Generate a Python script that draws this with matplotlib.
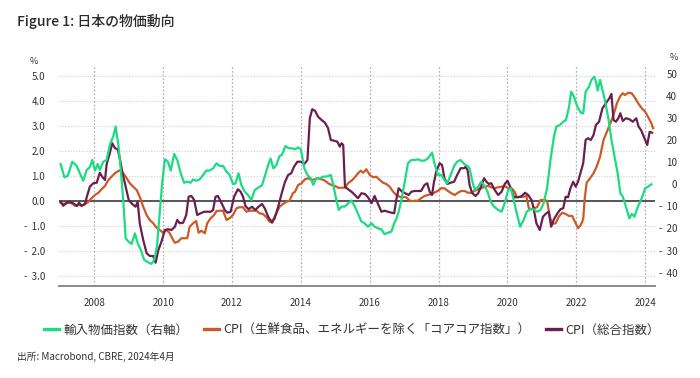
import matplotlib.pyplot as plt
from matplotlib.lines import Line2D

plt.rcParams['font.family'] = ['Noto Sans CJK JP', 'DejaVu Sans']

# 輸入物価指数 (前年比 %, 右軸)
imp_t = [2007.02, 2007.13, 2007.23, 2007.36, 2007.49, 2007.58, 2007.68, 2007.78, 2007.87, 2007.94,
         2008.02, 2008.10, 2008.16, 2008.26, 2008.36, 2008.45, 2008.55, 2008.62, 2008.70, 2008.77,
         2008.84, 2008.91, 2008.99, 2009.08, 2009.18, 2009.26, 2009.35, 2009.45, 2009.57, 2009.66,
         2009.74, 2009.82, 2009.90, 2009.97, 2010.05, 2010.14, 2010.22, 2010.32, 2010.41, 2010.51,
         2010.61, 2010.70, 2010.80, 2010.87, 2010.96, 2011.06, 2011.16, 2011.25, 2011.35, 2011.45,
         2011.55, 2011.64, 2011.74, 2011.84, 2011.93, 2012.03, 2012.10, 2012.19, 2012.27, 2012.37,
         2012.46, 2012.56, 2012.66, 2012.76, 2012.87, 2012.95, 2013.05, 2013.12, 2013.20, 2013.29,
         2013.38, 2013.45, 2013.55, 2013.65, 2013.74, 2013.83, 2013.92, 2014.00, 2014.10, 2014.19,
         2014.29, 2014.36, 2014.45, 2014.55, 2014.65, 2014.74, 2014.87, 2014.94, 2015.03, 2015.10,
         2015.18, 2015.28, 2015.37, 2015.47, 2015.57, 2015.66, 2015.76, 2015.85, 2015.95, 2016.05,
         2016.14, 2016.24, 2016.34, 2016.43, 2016.53, 2016.63, 2016.71, 2016.77, 2016.84, 2016.92,
         2017.01, 2017.11, 2017.21, 2017.30, 2017.40, 2017.49, 2017.59, 2017.69, 2017.81, 2017.88,
         2017.98, 2018.08, 2018.17, 2018.25, 2018.35, 2018.45, 2018.54, 2018.64, 2018.74, 2018.84,
         2018.90, 2018.97, 2019.05, 2019.15, 2019.24, 2019.32, 2019.42, 2019.51, 2019.61, 2019.73,
         2019.83, 2019.92, 2020.02, 2020.10, 2020.17, 2020.27, 2020.37, 2020.47, 2020.56, 2020.66,
         2020.76, 2020.86, 2020.96, 2021.05, 2021.15, 2021.25, 2021.35, 2021.42, 2021.52, 2021.62,
         2021.70, 2021.79, 2021.85, 2021.93, 2022.03, 2022.13, 2022.20, 2022.27, 2022.37, 2022.44,
         2022.52, 2022.57, 2022.62, 2022.69, 2022.76, 2022.83, 2022.93, 2023.02, 2023.12, 2023.20,
         2023.28, 2023.35, 2023.44, 2023.54, 2023.61, 2023.69, 2023.79, 2023.90, 2024.00, 2024.08,
         2024.18]
imp_v = [9.2, 3.2, 3.8, 10.2, 8.3, 5.0, 1.6, 6.5, 7.7, 11.0,
         6.2, 9.2, 6.5, 10.2, 11.0, 17.8, 21.6, 26.1, 17.8, 6.5,
         -7.1, -24.4, -25.9, -27.0, -22.2, -26.7, -29.7, -34.2, -35.4, -36.0,
         -34.2, -28.2, -13.1, 0.4, 11.3, 10.2, 6.2, 13.7, 11.0, 5.0,
         0.7, 1.2, 0.7, 2.2, 1.6, 2.2, 4.2, 6.2, 6.2, 7.2,
         9.5, 8.3, 8.3, 5.7, 4.2, 0.1, 0.4, 5.0, -0.3, -3.3,
         -4.8, -7.1, -2.6, -1.5, -0.5, 3.5, 8.7, 11.7, 7.2, 8.7,
         12.8, 13.3, 17.3, 16.3, 16.3, 15.8, 16.7, 15.8, 7.2, 4.2,
         2.7, -0.3, 2.7, 2.7, 3.5, 3.5, 4.2, -0.3, -7.1, -11.6,
         -10.1, -10.1, -8.6, -7.4, -10.1, -13.4, -16.9, -17.6, -19.2, -17.6,
         -19.2, -19.9, -20.4, -22.6, -21.9, -21.4, -17.6, -15.8, -12.4, -7.1,
         0.4, 9.5, 11.0, 11.0, 11.3, 10.7, 10.7, 11.7, 14.3, 9.5,
         4.2, 4.2, 1.9, 0.4, 4.2, 8.3, 10.2, 11.0, 9.2, 8.3,
         7.2, 1.9, -2.6, -1.1, 1.2, -0.3, -3.3, -7.8, -10.1, -11.6,
         -12.4, -8.6, -2.6, -1.8, -6.3, -13.1, -19.2, -16.1, -12.4, -11.3,
         -11.3, -12.4, -11.6, -8.6, -1.8, 11.0, 21.6, 26.1, 26.8, 28.3,
         29.1, 35.1, 41.9, 39.7, 35.1, 32.4, 32.1, 41.9, 44.2, 47.2,
         48.7, 46.4, 42.4, 47.2, 42.7, 38.1, 29.9, 20.1, 11.7, 5.0,
         -4.1, -5.6, -10.1, -15.4, -13.4, -14.6, -10.1, -6.3, -1.8, -1.1,
         0.0]

# CPI（生鮮食品及びエネルギーを除く総合）
core_t = [2007.02, 2007.10, 2007.25, 2007.34, 2007.44, 2007.54, 2007.63, 2007.73, 2007.83, 2007.92,
          2008.02, 2008.12, 2008.21, 2008.31, 2008.41, 2008.50, 2008.60, 2008.70, 2008.77, 2008.84,
          2008.94, 2009.03, 2009.13, 2009.23, 2009.32, 2009.42, 2009.52, 2009.61, 2009.71, 2009.81,
          2009.90, 2010.00, 2010.10, 2010.19, 2010.29, 2010.34, 2010.43, 2010.53, 2010.63, 2010.70,
          2010.77, 2010.87, 2010.96, 2011.03, 2011.11, 2011.21, 2011.28, 2011.38, 2011.48, 2011.55,
          2011.64, 2011.74, 2011.84, 2011.93, 2012.03, 2012.13, 2012.22, 2012.32, 2012.42, 2012.51,
          2012.61, 2012.71, 2012.80, 2012.90, 2013.00, 2013.09, 2013.19, 2013.29, 2013.38, 2013.48,
          2013.58, 2013.67, 2013.77, 2013.83, 2013.92, 2014.02, 2014.12, 2014.21, 2014.31, 2014.41,
          2014.50, 2014.60, 2014.70, 2014.79, 2014.89, 2014.99, 2015.08, 2015.18, 2015.28, 2015.37,
          2015.47, 2015.57, 2015.66, 2015.74, 2015.81, 2015.90, 2016.00, 2016.10, 2016.19, 2016.29,
          2016.39, 2016.48, 2016.58, 2016.68, 2016.77, 2016.87, 2016.97, 2017.06, 2017.16, 2017.26,
          2017.30, 2017.40, 2017.49, 2017.59, 2017.69, 2017.79, 2017.88, 2017.98, 2018.08, 2018.17,
          2018.27, 2018.37, 2018.47, 2018.56, 2018.66, 2018.76, 2018.85, 2018.95, 2019.05, 2019.15,
          2019.24, 2019.34, 2019.44, 2019.53, 2019.63, 2019.73, 2019.83, 2019.92, 2020.02, 2020.12,
          2020.21, 2020.27, 2020.36, 2020.46, 2020.55, 2020.62, 2020.70, 2020.76, 2020.86, 2020.96,
          2021.05, 2021.15, 2021.23, 2021.30, 2021.40, 2021.49, 2021.59, 2021.69, 2021.79, 2021.88,
          2021.98, 2022.05, 2022.13, 2022.20, 2022.24, 2022.30, 2022.40, 2022.50, 2022.59, 2022.69,
          2022.79, 2022.89, 2022.99, 2023.08, 2023.18, 2023.28, 2023.35, 2023.41, 2023.51, 2023.61,
          2023.71, 2023.81, 2023.90, 2024.00, 2024.08, 2024.18, 2024.23]
core_v = [-0.07, -0.12, -0.07, -0.09, -0.19, -0.15, -0.19, -0.13, -0.03, 0.11,
          0.24, 0.33, 0.47, 0.60, 0.84, 0.97, 1.11, 1.20, 1.24, 1.11,
          0.91, 0.71, 0.57, 0.44, 0.17, -0.23, -0.56, -0.76, -0.89, -1.07,
          -1.16, -1.27, -1.16, -1.29, -1.56, -1.67, -1.63, -1.49, -1.49, -1.49,
          -1.03, -0.89, -0.80, -1.27, -1.19, -1.29, -0.89, -0.69, -0.56, -0.40,
          -0.39, -0.39, -0.76, -0.69, -0.56, -0.29, -0.25, -0.25, -0.43, -0.39,
          -0.39, -0.39, -0.49, -0.52, -0.65, -0.83, -0.76, -0.49, -0.23, -0.12,
          -0.03, 0.01, 0.31, 0.37, 0.64, 0.71, 0.87, 0.91, 0.84, 0.87,
          0.91, 0.87, 0.81, 0.71, 0.64, 0.60, 0.53, 0.53, 0.53, 0.71,
          0.81, 0.95, 1.11, 1.21, 1.13, 1.27, 1.04, 0.95, 0.97, 0.84,
          0.73, 0.68, 0.57, 0.37, 0.24, 0.17, 0.15, 0.15, 0.01, 0.00,
          0.01, 0.01, 0.11, 0.20, 0.24, 0.28, 0.33, 0.41, 0.51, 0.51,
          0.40, 0.31, 0.24, 0.33, 0.40, 0.40, 0.33, 0.33, 0.41, 0.47,
          0.51, 0.57, 0.60, 0.55, 0.51, 0.55, 0.57, 0.60, 0.51, 0.51,
          0.37, 0.15, 0.17, 0.17, 0.20, -0.29, -0.33, -0.29, -0.25, 0.04,
          0.04, 0.01, -0.63, -0.92, -0.89, -0.63, -0.47, -0.52, -0.60, -0.60,
          -0.89, -1.09, -0.96, -0.73, 0.04, 0.73, 0.91, 1.11, 1.37, 1.77,
          2.44, 2.77, 3.11, 3.44, 3.91, 4.20, 4.31, 4.24, 4.33, 4.31,
          4.11, 3.88, 3.71, 3.57, 3.37, 3.11, 2.91]

# CPI（総合指数）
cpi_t = [2007.02, 2007.10, 2007.20, 2007.29, 2007.39, 2007.49, 2007.56, 2007.63, 2007.73, 2007.78,
         2007.87, 2007.97, 2008.07, 2008.16, 2008.23, 2008.31, 2008.36, 2008.45, 2008.52, 2008.60,
         2008.68, 2008.74, 2008.82, 2008.91, 2009.00, 2009.10, 2009.20, 2009.26, 2009.32, 2009.42,
         2009.52, 2009.61, 2009.71, 2009.78, 2009.86, 2009.95, 2010.05, 2010.14, 2010.24, 2010.34,
         2010.41, 2010.48, 2010.58, 2010.67, 2010.74, 2010.82, 2010.90, 2010.99, 2011.09, 2011.19,
         2011.28, 2011.38, 2011.45, 2011.52, 2011.59, 2011.69, 2011.79, 2011.86, 2011.96, 2012.06,
         2012.17, 2012.25, 2012.32, 2012.39, 2012.48, 2012.58, 2012.68, 2012.77, 2012.87, 2012.95,
         2013.05, 2013.16, 2013.24, 2013.34, 2013.43, 2013.53, 2013.63, 2013.72, 2013.80, 2013.90,
         2014.00, 2014.10, 2014.19, 2014.26, 2014.33, 2014.41, 2014.50, 2014.60, 2014.70, 2014.79,
         2014.87, 2014.97, 2015.06, 2015.13, 2015.18, 2015.23, 2015.28, 2015.37, 2015.47, 2015.57,
         2015.66, 2015.76, 2015.86, 2015.95, 2016.05, 2016.14, 2016.24, 2016.34, 2016.43, 2016.53,
         2016.63, 2016.71, 2016.77, 2016.84, 2016.94, 2017.03, 2017.13, 2017.21, 2017.30, 2017.40,
         2017.49, 2017.59, 2017.67, 2017.74, 2017.81, 2017.86, 2017.93, 2018.03, 2018.10, 2018.17,
         2018.25, 2018.35, 2018.45, 2018.54, 2018.64, 2018.74, 2018.78, 2018.84, 2018.90, 2018.97,
         2019.07, 2019.15, 2019.24, 2019.32, 2019.39, 2019.46, 2019.53, 2019.63, 2019.73, 2019.83,
         2019.92, 2020.00, 2020.10, 2020.19, 2020.29, 2020.39, 2020.51, 2020.60, 2020.70, 2020.76,
         2020.84, 2020.94, 2021.03, 2021.13, 2021.20, 2021.27, 2021.35, 2021.44, 2021.54, 2021.62,
         2021.69, 2021.76, 2021.83, 2021.91, 2021.98, 2022.05, 2022.13, 2022.20, 2022.27, 2022.34,
         2022.42, 2022.50, 2022.57, 2022.66, 2022.76, 2022.86, 2022.96, 2023.02, 2023.08, 2023.15,
         2023.22, 2023.28, 2023.35, 2023.44, 2023.54, 2023.64, 2023.74, 2023.81, 2023.88, 2023.96,
         2024.06, 2024.13, 2024.20]
cpi_v = [-0.03, -0.19, -0.07, -0.03, -0.09, -0.20, -0.07, -0.19, -0.12, 0.15,
         0.57, 0.71, 0.73, 1.13, 0.97, 0.84, 1.48, 1.91, 2.31, 2.11,
         2.07, 1.71, 1.11, 0.57, 0.04, -0.12, -0.23, -0.03, -0.89, -1.56,
         -2.09, -2.20, -2.20, -2.47, -1.96, -1.63, -1.16, -1.13, -1.16, -1.03,
         -0.76, -0.89, -0.87, -0.56, 0.17, 0.20, 0.04, -0.56, -0.49, -0.43,
         -0.43, -0.43, -0.36, 0.17, 0.20, -0.07, -0.36, -0.47, -0.43, 0.17,
         0.47, 0.37, 0.17, -0.20, -0.33, -0.23, -0.36, -0.23, -0.12, -0.29,
         -0.63, -0.87, -0.69, -0.23, 0.24, 0.73, 1.04, 1.11, 1.37, 1.57,
         1.57, 1.48, 1.64, 3.31, 3.67, 3.61, 3.37, 3.24, 3.13, 2.91,
         2.44, 2.41, 2.37, 2.17, 2.31, 2.24, 0.57, 0.47, 0.37, 0.24,
         0.11, 0.31, 0.28, 0.15, -0.09, 0.20, -0.12, -0.43, -0.39, -0.43,
         -0.47, -0.49, 0.04, 0.51, 0.37, 0.31, 0.24, 0.37, 0.40, 0.40,
         0.40, 0.64, 0.71, 0.37, 0.24, 0.71, 1.17, 1.51, 1.44, 0.91,
         0.68, 0.73, 0.77, 1.04, 1.31, 1.31, 1.37, 1.24, 0.64, 0.33,
         0.20, 0.31, 0.60, 0.91, 0.77, 0.68, 0.71, 0.44, 0.24, 0.37,
         0.68, 0.81, 0.51, 0.15, 0.15, 0.17, 0.33, 0.24, 0.04, -0.29,
         -0.89, -1.16, -0.63, -0.49, -0.43, -1.03, -0.73, -0.52, -0.33, -0.29,
         0.17, 0.15, 0.51, 0.77, 0.57, 0.77, 1.17, 1.51, 2.44, 2.51,
         2.44, 2.64, 3.04, 3.17, 3.71, 3.91, 4.11, 4.28, 3.24, 3.17,
         3.31, 3.51, 3.20, 3.31, 3.27, 3.17, 3.31, 2.97, 2.84, 2.57,
         2.24, 2.77, 2.73]

left_ticks = [5, 4, 3, 2, 1, 0, -1, -2, -3]
right_ticks = [50, 40, 30, 20, 10, 0, -10, -20, -30, -40]
year_ticks = list(range(2008, 2025, 2))

labels = ['輸入物価指数（右軸）',
          'CPI（生鮮食品、エネルギーを除く「コアコア指数」）',
          'CPI（総合指数）']
GREEN, ORANGE, PURPLE = '#1bdc80', '#cc5a26', '#6b1f4f'
TXT = '#333333'

fig = plt.figure(figsize=(7, 3.78), dpi=100)
ax = fig.add_axes([0.0843, 0.2421, 0.8514, 0.586])
ax2 = ax.twinx()

ax.plot(core_t, core_v, color=ORANGE, lw=1.6, zorder=3)
ax.plot(cpi_t, cpi_v, color=PURPLE, lw=1.6, zorder=4)
ax2.plot(imp_t, imp_v, color=GREEN, lw=1.6, zorder=3)
ax.axhline(0, color='#555555', lw=1.4, zorder=2)

ax.set_xlim(2006.975, 2024.285)
ax.set_ylim(-3.42, 5.44)
ax2.set_ylim(-46.24, 53.98)

ax.set_xticks(year_ticks)
ax.set_xticklabels([str(y) for y in year_ticks])
ax.set_yticks(left_ticks)
ax.set_yticklabels([f'{v:.1f}' if v >= 0 else f'-  {abs(v):.1f}' for v in left_ticks])
ax2.set_yticks(right_ticks)
ax2.set_yticklabels([f'{v}' if v >= 0 else f'-  {abs(v)}' for v in right_ticks])
for t in ax2.get_yticklabels():
    t.set_horizontalalignment('right')

ax.grid(axis='y', color='#cfcfcf', lw=0.8, ls=(0, (1, 1.5)))
ax.grid(axis='x', color='#b4b4b4', lw=0.9, ls=(0, (1.5, 1.5)))
ax.set_axisbelow(True)

for a in (ax, ax2):
    for s in ('top', 'left', 'right'):
        a.spines[s].set_visible(False)
    a.spines['bottom'].set_color('#8a8a8a')
    a.spines['bottom'].set_linewidth(1.2)
ax.tick_params(axis='y', length=0, pad=10, labelsize=7, labelcolor=TXT)
ax.tick_params(axis='x', length=0, pad=8, labelsize=7, labelcolor=TXT)
ax2.tick_params(axis='y', length=0, pad=16, labelsize=7, labelcolor=TXT)

fig.text(34 / 700, 1 - 62 / 378, '%', fontsize=6.5, color=TXT, ha='center', va='center')
fig.text(674 / 700, 1 - 57 / 378, '%', fontsize=6.5, color=TXT, ha='center', va='center')

fig.text(17 / 700, 1 - 21 / 378, 'Figure 1: 日本の物価動向', fontsize=10, color='#2a2a2a',
         fontweight='medium', ha='left', va='center')
fig.text(17 / 700, 1 - 357 / 378, '出所: Macrobond, CBRE, 2024年4月', fontsize=7,
         color=TXT, ha='left', va='center')

handles = [Line2D([], [], color=c, lw=2.4) for c in (GREEN, ORANGE, PURPLE)]
fig.legend(handles, labels, loc='center', bbox_to_anchor=(352 / 700, 1 - 330 / 378),
           ncol=3, frameon=False, fontsize=9, handlelength=1.2, handletextpad=0.3,
           columnspacing=1.3, labelcolor=TXT)

fig.savefig('out.png', dpi=100)
